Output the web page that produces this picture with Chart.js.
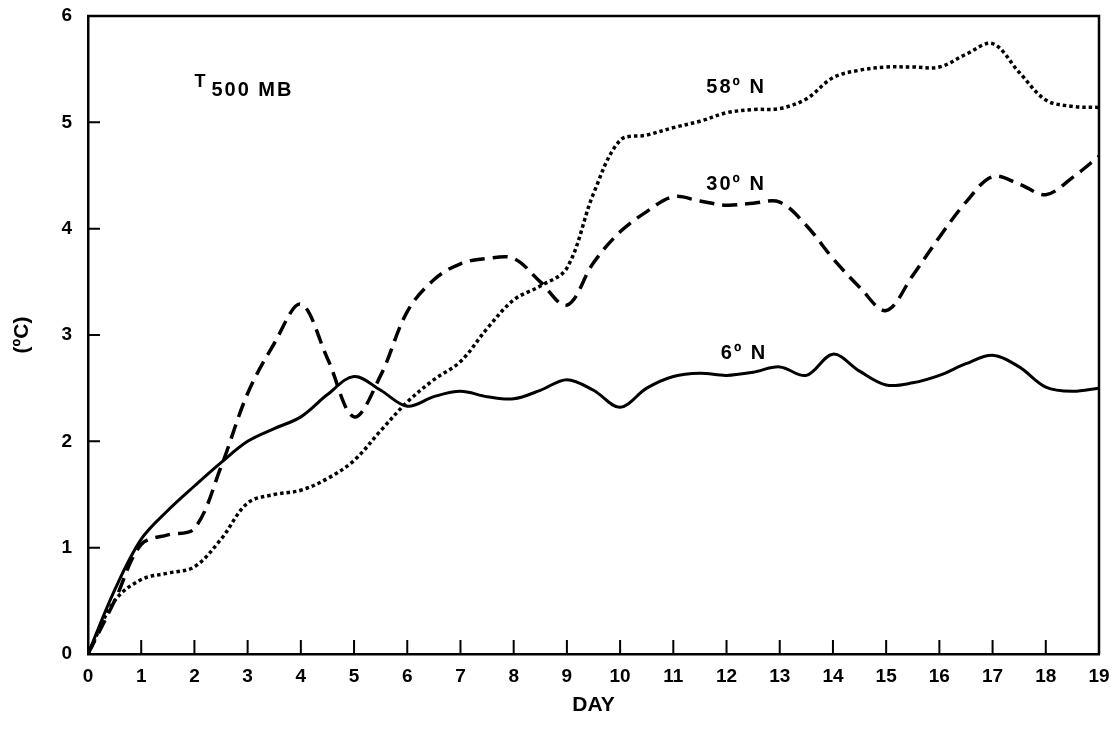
<!DOCTYPE html>
<html>
<head>
<meta charset="utf-8">
<script src="https://cdn.jsdelivr.net/npm/chart.js@4.4.1/dist/chart.umd.min.js"></script>
<style>
  html, body { margin: 0; padding: 0; background: #ffffff; }
  #wrap { width: 1116px; height: 746px; position: relative; }
</style>
</head>
<body>
<div id="wrap"><canvas id="c" width="1116" height="746"></canvas></div>
<script>
// ---- data ----
const days = [0,0.5,1,1.5,2,2.5,3,3.5,4,4.5,5,5.5,6,6.5,7,7.5,8,8.5,9,9.5,10,10.5,11,11.5,12,12.5,13,13.5,14,14.5,15,15.5,16,16.5,17,17.5,18,18.5,19];
const n6 = [0,0.6,1.08,1.35,1.58,1.8,2.0,2.12,2.23,2.44,2.61,2.48,2.33,2.42,2.47,2.42,2.4,2.48,2.58,2.48,2.32,2.5,2.61,2.64,2.62,2.65,2.7,2.62,2.82,2.66,2.53,2.55,2.62,2.73,2.81,2.7,2.51,2.47,2.5];
const n30 = [0,0.5,1.03,1.12,1.18,1.76,2.45,2.92,3.29,2.78,2.23,2.62,3.22,3.52,3.67,3.72,3.72,3.5,3.28,3.68,3.97,4.16,4.3,4.26,4.22,4.24,4.25,4.03,3.72,3.45,3.23,3.56,3.92,4.25,4.49,4.42,4.32,4.48,4.68];
const n58 = [0,0.5,0.7,0.76,0.82,1.08,1.42,1.5,1.54,1.65,1.82,2.1,2.37,2.58,2.75,3.06,3.33,3.46,3.63,4.33,4.83,4.88,4.95,5.01,5.09,5.12,5.13,5.22,5.42,5.49,5.52,5.52,5.52,5.64,5.74,5.47,5.21,5.15,5.14];
const xTicks = [0,1,2,3,4,5,6,7,8,9,10,11,12,13,14,15,16,17,18,19];
const yTicks = [0,1,2,3,4,5,6];
const seriesNames = ['6º N','30º N','58º N'];

const toPts = (arr) => arr.map((v, i) => ({ x: days[i], y: v }));

const FONT = "'Liberation Sans', Arial, Helvetica, sans-serif";

const framePlugin = {
  id: 'frame',
  beforeDraw(chart) {
    const ctx = chart.ctx;
    ctx.save();
    ctx.fillStyle = '#ffffff';
    ctx.fillRect(0, 0, chart.width, chart.height);
    ctx.restore();
  },
  afterDraw(chart) {
    const { ctx, chartArea: a, scales } = chart;
    ctx.save();
    ctx.strokeStyle = '#000';
    ctx.lineWidth = 2.5;
    ctx.beginPath();
    ctx.moveTo(a.left - 1, a.top);
    ctx.lineTo(a.right, a.top);
    ctx.lineTo(a.right, a.bottom);
    ctx.stroke();
    // inward ticks
    ctx.lineWidth = 2;
    ctx.beginPath();
    xTicks.forEach(t => {
      if (t === 0 || t === 19) return;
      const px = scales.x.getPixelForValue(t);
      ctx.moveTo(px, a.bottom);
      ctx.lineTo(px, a.bottom - 14);
    });
    yTicks.forEach(t => {
      if (t === 0 || t === 6) return;
      const py = scales.y.getPixelForValue(t);
      ctx.moveTo(a.left, py);
      ctx.lineTo(a.left + 12, py);
    });
    ctx.stroke();
    // annotations
    ctx.fillStyle = '#000';
    ctx.textBaseline = 'middle';
    ctx.textAlign = 'center';
    ctx.font = 'bold 20px ' + FONT;
    try { ctx.letterSpacing = '2px'; } catch (e) {}
    const lab = [[seriesNames[2], 12.18, 5.33], [seriesNames[1], 12.18, 4.42], [seriesNames[0], 12.33, 2.83]];
    lab.forEach(([s, dx, dy]) => {
      ctx.fillText(s, scales.x.getPixelForValue(dx), scales.y.getPixelForValue(dy));
    });
    ctx.textAlign = 'left';
    const tx = scales.x.getPixelForValue(2.0), ty = scales.y.getPixelForValue(5.38);
    ctx.font = 'bold 18px ' + FONT;
    try { ctx.letterSpacing = '0px'; } catch (e) {}
    ctx.fillText('T', tx, ty);
    ctx.font = 'bold 20px ' + FONT;
    try { ctx.letterSpacing = '2px'; } catch (e) {}
    ctx.fillText('500 MB', tx + 17, ty + 9);
    ctx.restore();
  }
};

new Chart(document.getElementById('c'), {
  type: 'line',
  data: {
    datasets: [
      { label: seriesNames[0], data: toPts(n6), borderColor: '#000', borderWidth: 3, pointRadius: 0, tension: 0.35, fill: false },
      { label: seriesNames[1], data: toPts(n30), borderColor: '#000', borderWidth: 3.5, borderDash: [15, 8], pointRadius: 0, tension: 0.35, fill: false },
      { label: seriesNames[2], data: toPts(n58), borderColor: '#000', borderWidth: 3.5, borderDash: [3.5, 3], pointRadius: 0, tension: 0.35, fill: false }
    ]
  },
  options: {
    responsive: false,
    animation: false,
    devicePixelRatio: 1,
    layout: { padding: { top: 16, right: 17, left: 0, bottom: 0 } },
    plugins: { legend: { display: false }, tooltip: { enabled: false } },
    scales: {
      x: {
        type: 'linear', min: 0, max: 19,
        afterFit(s) { s.height = 92; s.paddingLeft = 0; s.paddingRight = 0; },
        afterBuildTicks(s) { s.ticks = xTicks.map(v => ({ value: v })); },
        grid: { display: false, drawTicks: false },
        border: { display: true, color: '#000', width: 2.5 },
        ticks: { color: '#000', padding: 11, font: { family: FONT, size: 19, weight: 'bold' }, maxRotation: 0, autoSkip: false },
        title: { display: true, text: 'DAY', color: '#000', font: { family: FONT, size: 21, weight: 'bold' }, padding: { top: 28, bottom: 28 } }
      },
      y: {
        type: 'linear', min: 0, max: 6,
        afterFit(s) { s.width = 88; s.paddingTop = 0; s.paddingBottom = 0; },
        afterBuildTicks(s) { s.ticks = yTicks.map(v => ({ value: v })); },
        grid: { display: false, drawTicks: false },
        border: { display: true, color: '#000', width: 2.5 },
        ticks: { color: '#000', padding: 16, font: { family: FONT, size: 19, weight: 'bold' } },
        title: { display: true, text: '(ºC)', color: '#000', font: { family: FONT, size: 21, weight: 'bold' }, padding: { top: 10, bottom: 10 } }
      }
    }
  },
  plugins: [framePlugin]
});
</script>
</body>
</html>
